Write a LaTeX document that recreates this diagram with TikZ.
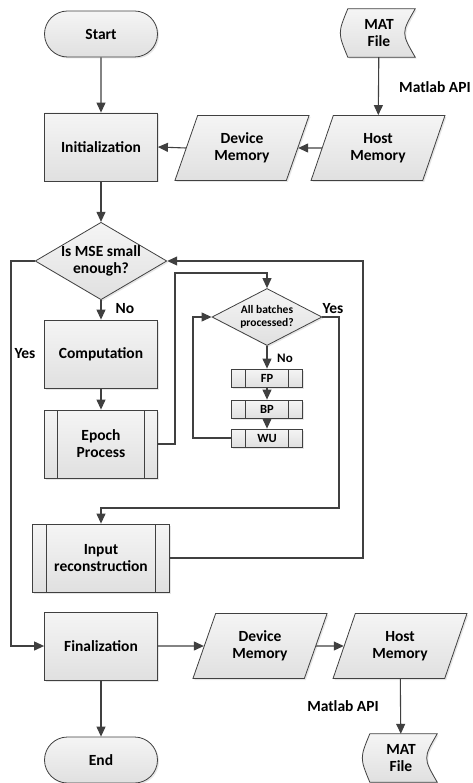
\documentclass[tikz,border=0pt]{standalone}
\usepackage{fontspec}
\setmainfont{Carlito}
\usetikzlibrary{shapes.geometric,shapes.misc,arrows.meta,shadows,backgrounds}

\definecolor{linegray}{RGB}{64,64,64}
\definecolor{fillgray}{RGB}{224,224,224}

\tikzset{
    base/.style = {draw = linegray, line width = 0.8pt, top color = white!96!black, bottom color = fillgray,
                   drop shadow = {shadow xshift = 1.5pt, shadow yshift = -1.5pt, opacity = 0.2},
                   font = \bfseries\fontsize{15.5}{17}\selectfont, align = center, inner sep = 0pt},
    terminal/.style = {base, rounded rectangle, minimum width = 113pt, minimum height = 46pt},
    process/.style = {base, rectangle, minimum width = 113pt, minimum height = 68pt},
    subproc/.style = {process, path picture = {
        \draw [linegray, line width = 0.6pt]
            ([xshift = #1]path picture bounding box.north west) -- ([xshift = #1]path picture bounding box.south west)
            ([xshift = -#1]path picture bounding box.north east) -- ([xshift = -#1]path picture bounding box.south east);}},
    subproc/.default = 13pt,
    smallproc/.style = {subproc = 14pt, minimum width = 71pt, minimum height = 18pt,
                        font = \bfseries\fontsize{12.5}{13}\selectfont},
    iobox/.style = {base, trapezium, trapezium left angle = 65, trapezium right angle = 115,
                    trapezium stretches = true, minimum width = 135pt, minimum height = 65pt},
    decision/.style = {base, diamond, aspect = 1.7, minimum width = 131pt, minimum height = 77pt},
    storedata/.style = {minimum width = 72pt, minimum height = 48pt, align = center, inner sep = 0pt,
                        font = \bfseries\fontsize{15.5}{17}\selectfont},
    flow/.style = {draw = linegray, line width = 1.1pt, -{Triangle[length = 10pt, width = 9pt]}},
    tag/.style = {font = \bfseries\fontsize{15.5}{17}\selectfont, inner sep = 0pt}
}

\begin{document}
\begin{tikzpicture}[x = 1pt, y = -1pt]
                \useasboundingbox (0, 0) rectangle (473, 783);

                \node [terminal] (start) at (101, 34) {Start};
                \node [process] (init) at (101, 147) {Initialization};
                \node [iobox] (devin) at (242, 148) {Device\\Memory};
                \node [iobox] (hostin) at (378, 148) {Host\\Memory};
                \node [storedata] (matin) at (379, 33) {MAT\\File};

                \node [decision] (mse) at (101, 261) {Is MSE small\\enough?};
                \node [process] (comp) at (101, 354) {Computation};
                \node [subproc] (epoch) at (101, 444) {Epoch\\Process};

                \node [decision, aspect = 1.93, minimum width = 110pt, minimum height = 57pt,
                       font = \bfseries\fontsize{11.5}{13.5}\selectfont] (batch) at (267, 317) {All batches\\processed?};
                \node [smallproc] (fp) at (267, 378) {FP};
                \node [smallproc] (bp) at (267, 409) {BP};
                \node [smallproc] (wu) at (267, 438) {WU};

                \node [subproc = 14pt, minimum width = 137pt] (recon) at (101, 558) {Input\\reconstruction};

                \node [process] (final) at (101, 646) {Finalization};
                \node [iobox] (devout) at (260, 646) {Device\\Memory};
                \node [iobox] (hostout) at (400, 646) {Host\\Memory};
                \node [storedata] (matout) at (401, 758) {MAT\\File};
                \node [terminal] (end) at (101, 760) {End};

                \begin{scope}[on background layer]
                    \foreach \f in {matin, matout}
                        \draw [base] ([xshift = 5pt]\f.north west) .. controls ([xshift = -5pt]\f.west) .. ([xshift = 5pt]\f.south west)
                            -- (\f.south east) .. controls ([xshift = -14pt]\f.east) .. (\f.north east) -- cycle;
                \end{scope}

                \draw [flow] (start) -- (init);
                \draw [flow] (matin) -- (hostin);
                \node [tag, anchor = west] (api1) at (399, 87) {Matlab API};
                \draw [flow] (hostin.west) -- (devin.east);
                \draw [flow] (devin.west) -- (init.east);
                \draw [flow] (init) -- (mse);

                \draw [flow] (mse) -- (comp);
                \node [tag] (no1) at (125, 309) {No};
                \draw [flow] (comp) -- (epoch);
                \draw [flow] (epoch.east) -| (175, 273) -| (batch.north);

                \draw [flow] (batch) -- (fp);
                \node [tag, font = \bfseries\fontsize{13}{15}\selectfont] (no2) at (285, 358) {No};
                \draw [flow] (fp) -- (bp);
                \draw [flow] (bp) -- (wu);
                \draw [flow] (wu.west) -| (193, 317) -- (batch.west);

                \draw [flow] (batch.east) -| (339, 508) -| (recon.north);
                \node [tag] (yes2) at (333, 309) {Yes};
                \draw [flow] (recon.east) -| (363, 261) -- (mse.east);

                \draw [flow] (mse.west) -| (11, 646) -- (final.west);
                \node [tag] (yes1) at (25, 354) {Yes};

                \draw [flow] (final) -- (end);
                \draw [flow] (final.east) -- (devout.west);
                \draw [flow] (devout.east) -- (hostout.west);
                \draw [flow] (hostout) -- (matout);
                \node [tag] (api2) at (343, 706) {Matlab API};
            \end{tikzpicture}
\end{document}
